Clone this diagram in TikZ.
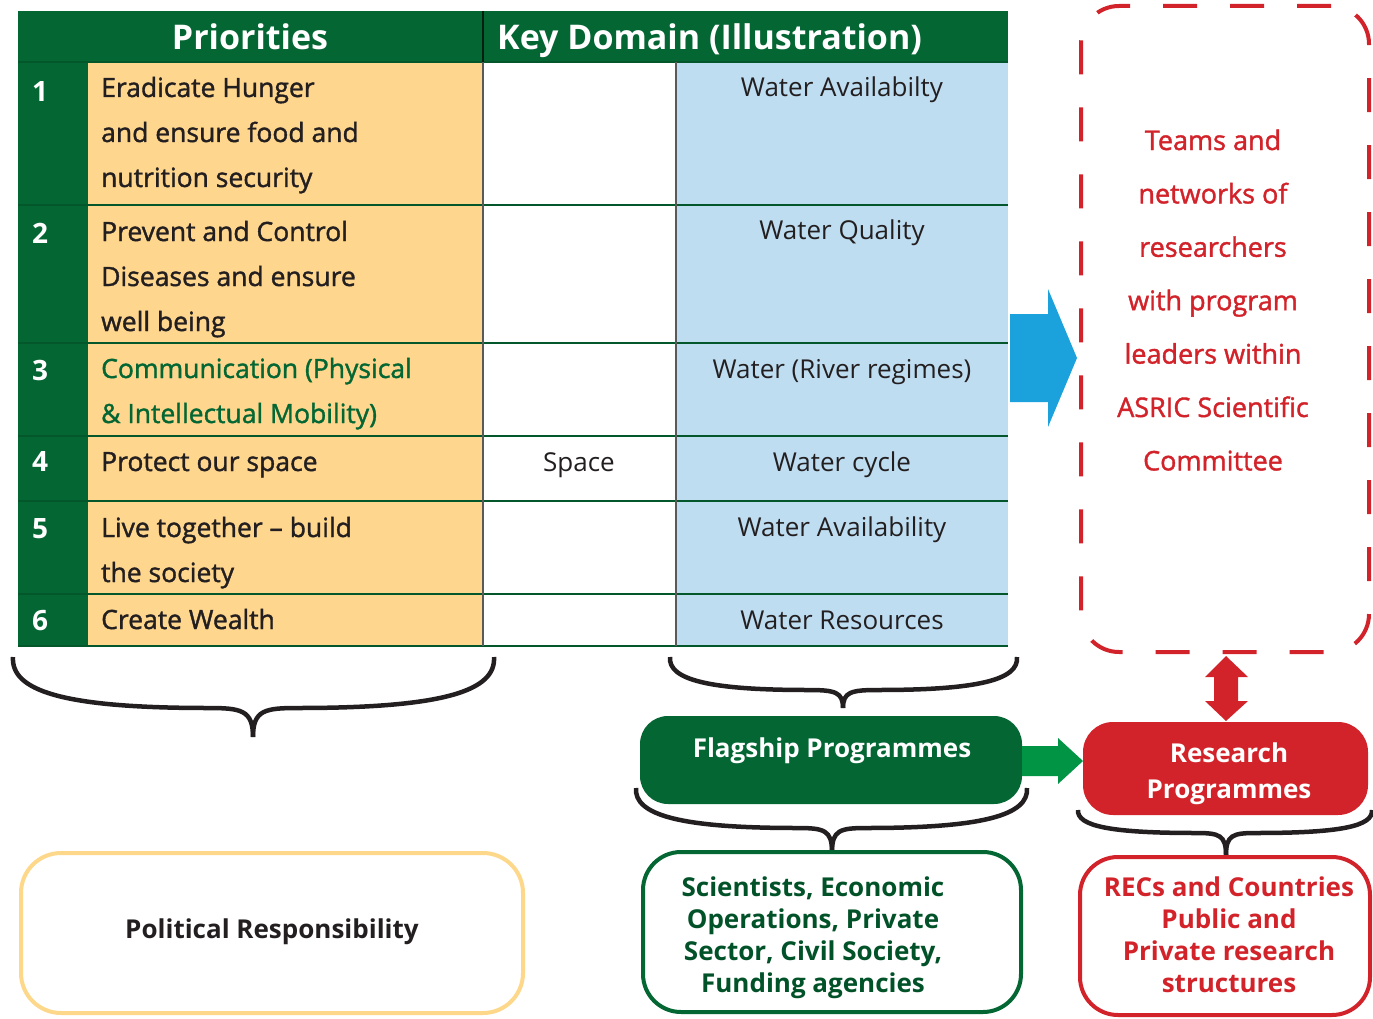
\documentclass[tikz,border=0pt]{standalone}
\usepackage{fontspec}
\setmainfont{Open Sans}
\newfontface\semibfont{Open Sans}[FakeBold=1.4]
\definecolor{dkgreen}{HTML}{036633}
\definecolor{prio}{HTML}{FED68E}
\definecolor{domblue}{HTML}{BEDDF1}
\definecolor{rd}{HTML}{D2232A}
\definecolor{agreen}{HTML}{009444}
\definecolor{ablue}{HTML}{1BA1DC}
\definecolor{ink}{HTML}{231F20}
\definecolor{pol}{HTML}{FDD88B}
\definecolor{gridgray}{HTML}{5A5A5A}
\begin{document}
\begin{tikzpicture}[x=1pt,y=-1pt,
  hdr/.style={font=\bfseries\fontsize{34}{40}\selectfont, text=white, inner sep=0},
  num/.style={font=\bfseries\fontsize{28}{30}\selectfont, text=white, inner sep=0},
  ptxt/.style={font=\semibfont\fontsize{26.5}{45}\selectfont, text=ink, align=left, anchor=base west, inner sep=0},
  dtxt/.style={font=\fontsize{26}{30}\selectfont, text=ink, anchor=base, inner sep=0},
  hline/.style={draw=dkgreen!85!black, line width=1.3},
  vline/.style={draw=gridgray, line width=1.3},
  bracestyle/.style={draw=ink, line width=4.5},
  boxtxt/.style={font=\bfseries\fontsize{26}{32}\selectfont, align=center, inner sep=0}
]
\useasboundingbox (0,0) rectangle (1373,1019);

% ---------- table ----------
\fill[dkgreen] (18,11) rectangle (1008,62);
\fill[dkgreen] (18,62) rectangle (88,646);
\fill[prio] (88,62) rectangle (483,646);
\fill[white] (483,62) rectangle (676,646);
\fill[domblue] (676,62) rectangle (1008,646);
\foreach \yy in {62,205,343,436,501,594,646} \draw[hline] (18,\yy) -- (1008,\yy);
\draw[draw=black!70!dkgreen, line width=1.3] (483,11) -- (483,62);
\draw[vline] (483,62) -- (483,646);
\draw[vline] (676,62) -- (676,646);

% (multi-line nodes: base anchor = baseline of the last line)
\node[hdr, anchor=base] (hprio) at (250,50) {Priorities};
\node[hdr, anchor=base west] (hdom) at (497,50) {Key Domain (Illustration)};

\node[num] (n1) at (40,92) {1};
\node[num] (n2) at (40,233) {2};
\node[num] (n3) at (40,370) {3};
\node[num] (n4) at (40,462) {4};
\node[num] (n5) at (40,529) {5};
\node[num] (n6) at (40,621) {6};

\node[ptxt] (p1) at (101,187) {Eradicate Hunger\\and ensure food and\\nutrition security};
\node[ptxt] (p2) at (101,331) {Prevent and Control\\Diseases and ensure\\well being};
\node[ptxt, text=dkgreen] (p3) at (101,423) {Communication (Physical\\\& Intellectual Mobility)};
\node[ptxt] (p4) at (101,471) {Protect our space};
\node[ptxt] (p5) at (101,582) {Live together – build\\the society};
\node[ptxt] (p6) at (101,629) {Create Wealth};

\node[dtxt] (s4) at (579,471) {Space};
\node[dtxt] (d1) at (842,97) {Water Availabilty};
\node[dtxt] (d2) at (842,240) {Water Quality};
\node[dtxt] (d3) at (842,378) {Water (River regimes)};
\node[dtxt] (d4) at (842,471) {Water cycle};
\node[dtxt] (d5) at (842,536) {Water Availability};
\node[dtxt] (d6) at (842,629) {Water Resources};

% ---------- blue arrow ----------
\fill[ablue] (1010,314) -- (1048,314) -- (1048,289) -- (1077,358) -- (1048,427) -- (1048,402) -- (1010,402) -- cycle;

% ---------- teams box ----------
\node[draw=rd, line width=4, rounded corners=38, dash pattern=on 34 off 33, minimum width=288, minimum height=646, inner sep=0] (teams) at (1225,329) {};
\node[font=\semibfont\fontsize{27}{53.4}\selectfont, text=rd, align=center, anchor=base, inner sep=0] (teamst) at (1213,470.4)
  {Teams and\\networks of\\researchers\\with program\\leaders within\\ASRIC Scientific\\Committee};

% ---------- braces ----------
\draw[bracestyle] (13,657) .. controls (11,690) and (60,708) .. (208,708) .. controls (241,708) and (253,710) .. (253,737);
\draw[bracestyle] (494,657) .. controls (496,690) and (447,708) .. (298,708) .. controls (265,708) and (253,710) .. (253,737);

\draw[bracestyle] (670,657) .. controls (668,680) and (710,690) .. (808,690) .. controls (835,690) and (843,692) .. (843,708);
\draw[bracestyle] (1017,657) .. controls (1019,680) and (977,690) .. (878,690) .. controls (851,690) and (843,692) .. (843,708);

\draw[bracestyle] (636,788) .. controls (634,815) and (680,828) .. (797,828) .. controls (824,828) and (832,830) .. (832,852);
\draw[bracestyle] (1027,788) .. controls (1029,815) and (983,828) .. (867,828) .. controls (840,828) and (832,830) .. (832,852);

\draw[bracestyle] (1078,810) .. controls (1077,826) and (1110,833) .. (1196,833) .. controls (1219,833) and (1226,835) .. (1226,855);
\draw[bracestyle] (1372,810) .. controls (1373,826) and (1342,833) .. (1256,833) .. controls (1233,833) and (1226,835) .. (1226,855);

% ---------- programme boxes ----------
\node[fill=dkgreen, rounded corners=28, minimum width=382, minimum height=88, inner sep=0] (flag) at (831,760) {};
\node[boxtxt, text=white, anchor=base] (flagt) at (832,757) {Flagship Programmes};

\node[fill=rd, rounded corners=30, minimum width=285, minimum height=93, inner sep=0] (research) at (1225.5,768.5) {};
\node[boxtxt, text=white, font=\bfseries\fontsize{26}{36}\selectfont, anchor=base] (researcht) at (1229,798) {Research\\Programmes};

% green arrow
\fill[agreen] (1022,746) -- (1058,746) -- (1058,738) -- (1083,761) -- (1058,784) -- (1058,776) -- (1022,776) -- cycle;

% red double arrow
\fill[rd] (1226,656) -- (1248,677) -- (1238,677) -- (1238,701) -- (1248,701) -- (1226,721) -- (1205,701) -- (1214,701) -- (1214,677) -- (1205,677) -- cycle;

% ---------- bottom boxes ----------
\node[draw=pol, line width=4, rounded corners=40, minimum width=502, minimum height=160, inner sep=0] (political) at (272,933) {};
\node[boxtxt, text=ink, anchor=base] (politicalt) at (272,938) {Political Responsibility};

\node[draw=dkgreen, line width=4, rounded corners=38, minimum width=378, minimum height=160, inner sep=0] (actors) at (832,932) {};
\node[boxtxt, text=dkgreen!80!black, anchor=base] (actorst) at (813,992) {Scientists, Economic\\Operations, Private\\Sector, Civil Society,\\Funding agencies};

\node[draw=rd, line width=4, rounded corners=38, minimum width=290, minimum height=158, inner sep=0] (recs) at (1225,936) {};
\node[boxtxt, text=rd, anchor=base] (recst) at (1229,992) {RECs and Countries\\Public and\\Private research\\structures};
\end{tikzpicture}
\end{document}
